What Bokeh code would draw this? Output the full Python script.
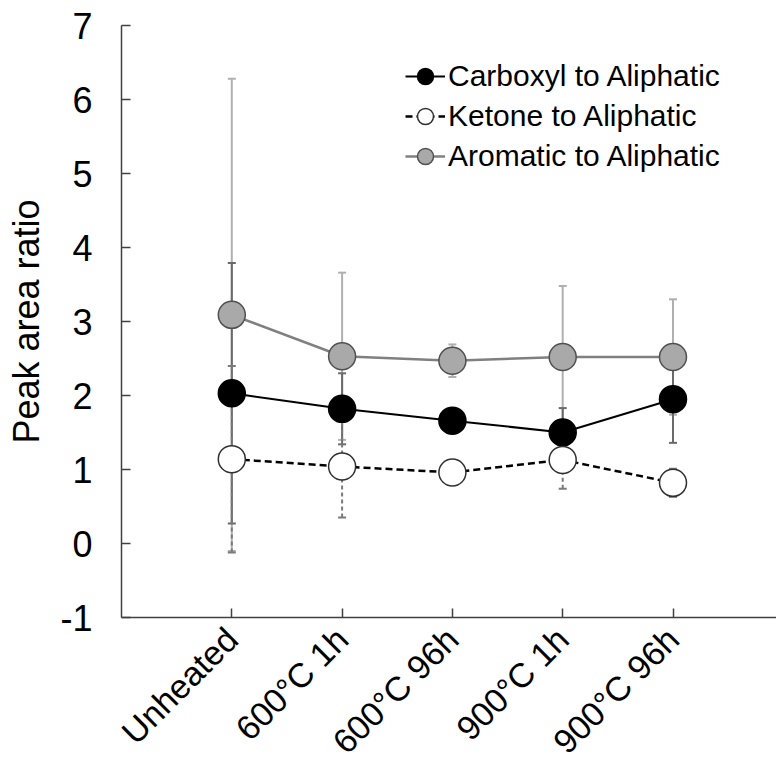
import math
from bokeh.plotting import figure
from bokeh.models import Range1d, FixedTicker, Legend, LegendItem
from bokeh.embed import file_html
from bokeh.resources import INLINE

categories = ["Unheated", "600°C 1h", "600°C 96h", "900°C 1h", "900°C 96h"]
x_pos = [1, 2, 3, 4, 5]
carboxyl = [2.03, 1.82, 1.66, 1.50, 1.95]
carboxyl_err = [1.76, 0.48, 0.10, 0.33, 0.59]
ketone = [1.14, 1.04, 0.96, 1.13, 0.82]
ketone_err = [1.26, 0.69, 0.12, 0.39, 0.19]
aromatic = [3.09, 2.53, 2.47, 2.52, 2.52]
aromatic_err = [3.19, 1.13, 0.22, 0.96, 0.78]
y_ticks = [-1, 0, 1, 2, 3, 4, 5, 6, 7]
y_tick_labels = ["-1", "0", "1", "2", "3", "4", "5", "6", "7"]

FONT = "Liberation Sans"

p = figure(width=776, height=778, output_backend="svg", toolbar_location=None,
           x_range=Range1d(0, 655 / 110.3), y_range=Range1d(-1, 7),
           min_border_left=121, min_border_right=0, min_border_top=25,
           min_border_bottom=161)
p.outline_line_color = None
p.xgrid.visible = False
p.ygrid.visible = False
p.background_fill_color = "white"
p.border_fill_color = "white"

# axes
for ax in (p.xaxis[0], p.yaxis[0]):
    ax.axis_line_color = "#404040"
    ax.axis_line_width = 1.5
    ax.major_tick_line_color = "#404040"
    ax.major_tick_line_width = 1.5
    ax.major_tick_in = 9
    ax.major_tick_out = 0
    ax.minor_tick_line_color = None
    ax.major_label_text_font = FONT
    ax.major_label_text_font_size = "36px"
    ax.major_label_text_color = "black"

p.xaxis.ticker = FixedTicker(ticks=x_pos)
p.xaxis.major_label_overrides = {x: c for x, c in zip(x_pos, categories)}
p.xaxis.major_label_orientation = math.pi / 4
p.xaxis.major_label_text_font_size = "34px"
p.xaxis.major_label_standoff = 16

p.yaxis.ticker = FixedTicker(ticks=y_ticks)
p.yaxis.major_label_overrides = {t: s for t, s in zip(y_ticks, y_tick_labels)}
p.yaxis.major_label_standoff = 29
p.yaxis.axis_label = "Peak area ratio"
p.yaxis.axis_label_text_font = FONT
p.yaxis.axis_label_text_font_size = "36px"
p.yaxis.axis_label_text_font_style = "normal"
p.yaxis.axis_label_text_color = "black"
p.yaxis.axis_label_standoff = 10

# error bars
def errbars(vals, errs, color, dash="solid"):
    lo = [v - e for v, e in zip(vals, errs)]
    hi = [v + e for v, e in zip(vals, errs)]
    p.segment(x0=x_pos, y0=lo, x1=x_pos, y1=hi, line_color=color, line_width=2,
              line_dash=dash)
    p.scatter(x=x_pos + x_pos, y=lo + hi, marker="dash", size=8,
              line_color=color, line_width=2)

errbars(aromatic, aromatic_err, "#b0b0b0")
errbars(carboxyl, carboxyl_err, "#6a6a6a")
errbars(ketone, ketone_err, "#7a7a7a", "4 3")

# series
l1 = p.line(x_pos, carboxyl, line_color="black", line_width=2)
m1 = p.scatter(x_pos, carboxyl, size=27, fill_color="black", line_color="black",
               line_width=1.5)
l2 = p.line(x_pos, ketone, line_color="black", line_width=2.5, line_dash="7 4")
m2 = p.scatter(x_pos, ketone, size=27, fill_color="white", line_color="#303030",
               line_width=1.5)
l3 = p.line(x_pos, aromatic, line_color="#808080", line_width=2.5)
m3 = p.scatter(x_pos, aromatic, size=27, fill_color="#a9a9a9", line_color="#505050",
               line_width=1.5)

legend = Legend(items=[
    LegendItem(label="Carboxyl to Aliphatic", renderers=[l1, m1]),
    LegendItem(label="Ketone to Aliphatic", renderers=[l2, m2]),
    LegendItem(label="Aromatic to Aliphatic", renderers=[l3, m3]),
], location=(284, 441))
legend.glyph_width = 40
legend.glyph_height = 40
legend.label_height = 40
legend.spacing = 0
legend.padding = 0
legend.margin = 0
legend.label_standoff = 3
legend.border_line_color = None
legend.background_fill_alpha = 0
legend.label_text_font = FONT
legend.label_text_font_size = "30px"
legend.label_text_color = "black"
p.add_layout(legend)

open("out.html", "w").write(file_html(p, INLINE))
